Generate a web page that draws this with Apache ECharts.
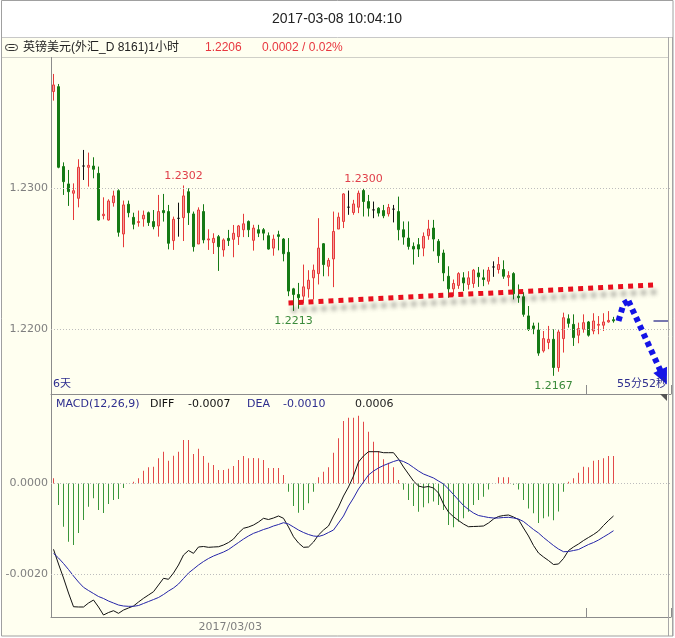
<!DOCTYPE html>
<html><head><meta charset="utf-8">
<script src="https://cdn.jsdelivr.net/npm/echarts@6/dist/echarts.min.js"></script>
<style>html,body{margin:0;padding:0;background:#fff}#c{width:675px;height:638px}</style>
</head><body><div id="c"></div>
<script>
// ---------- DATA ----------
const opens = [1.23686,1.23721,1.23154,1.23031,1.22965,1.22929,1.23158,1.23149,1.23158,1.23106,
 1.22806,1.22775,1.22898,1.22983,1.22676,1.22887,1.22794,1.22757,1.22783,1.22827,
 1.22764,1.22733,1.22842,1.22835,1.22629,1.22787,1.22792,1.22976,1.22818,1.22605,
 1.22835,1.22634,1.22615,1.22657,1.22563,1.22645,1.22638,1.22657,1.22706,1.22765,
 1.22631,1.22706,1.22706,1.22664,1.22576,1.22671,1.22640,1.22546,1.22287,1.22247,
 1.22235,1.22287,1.22365,1.22395,1.22607,1.22447,1.22499,1.22711,1.22765,1.22866,
 1.22828,1.22866,1.22984,1.22906,1.22847,1.22859,1.22842,1.22819,1.22852,1.22835,
 1.22706,1.22647,1.22588,1.22600,1.22576,1.22664,1.22718,1.22624,1.22541,1.22376,
 1.22287,1.22311,1.22365,1.22318,1.22325,1.22400,1.22365,1.22341,1.22442,1.22424,
 1.22424,1.22369,1.22395,1.22235,1.22231,1.22095,1.22024,1.21995,1.21847,1.21906,
 1.21929,1.21729,1.21934,1.22075,1.22035,1.21958,1.22000,1.22052,1.21988,1.22029,
 1.22029,1.22052,1.22068];
const closes = [1.23733,1.23149,1.23047,1.22976,1.22983,1.23149,1.23158,1.23163,1.23135,1.22775,
 1.22816,1.22910,1.22946,1.22688,1.22882,1.22827,1.22745,1.22764,1.22809,1.22757,
 1.22728,1.22835,1.22827,1.22610,1.22780,1.22787,1.22946,1.22827,1.22586,1.22846,
 1.22634,1.22641,1.22645,1.22586,1.22634,1.22629,1.22681,1.22733,1.22748,1.22706,
 1.22718,1.22682,1.22682,1.22569,1.22640,1.22659,1.22536,1.22271,1.22247,1.22224,
 1.22301,1.22348,1.22419,1.22576,1.22459,1.22489,1.22694,1.22795,1.22960,1.22866,
 1.22889,1.22965,1.22906,1.22859,1.22847,1.22824,1.22805,1.22864,1.22852,1.22706,
 1.22654,1.22588,1.22569,1.22569,1.22659,1.22711,1.22640,1.22522,1.22400,1.22287,
 1.22325,1.22395,1.22329,1.22365,1.22419,1.22372,1.22353,1.22419,1.22442,1.22459,
 1.22376,1.22381,1.22252,1.22224,1.22106,1.22000,1.22005,1.21831,1.21934,1.21929,
 1.21729,1.21981,1.22082,1.22042,1.21941,1.22005,1.22047,1.21958,1.22059,1.22035,
 1.22052,1.22063,1.22060];
const lows = [1.23622,1.23142,1.22953,1.22875,1.22775,1.22865,1.23059,1.23012,1.23071,1.22771,
 1.22780,1.22771,1.22870,1.22657,1.22582,1.22794,1.22709,1.22728,1.22728,1.22733,
 1.22709,1.22657,1.22764,1.22567,1.22563,1.22657,1.22626,1.22740,1.22551,1.22605,
 1.22610,1.22563,1.22534,1.22414,1.22515,1.22591,1.22511,1.22598,1.22654,1.22654,
 1.22558,1.22654,1.22631,1.22565,1.22522,1.22560,1.22482,1.22235,1.22130,1.22146,
 1.22184,1.22224,1.22212,1.22318,1.22376,1.22376,1.22299,1.22711,1.22718,1.22812,
 1.22812,1.22824,1.22800,1.22800,1.22788,1.22800,1.22788,1.22800,1.22758,1.22631,
 1.22600,1.22565,1.22459,1.22513,1.22518,1.22635,1.22553,1.22471,1.22341,1.22224,
 1.22235,1.22287,1.22271,1.22282,1.22294,1.22301,1.22306,1.22318,1.22372,1.22395,
 1.22358,1.22306,1.22212,1.22188,1.22089,1.21988,1.21965,1.21812,1.21835,1.21859,
 1.21670,1.21699,1.21835,1.22012,1.21882,1.21901,1.21976,1.21948,1.21965,1.21965,
 1.21988,1.22047,1.22047];
const highs = [1.23811,1.23740,1.23184,1.23130,1.23035,1.23206,1.23272,1.23253,1.23220,1.23154,
 1.22936,1.22922,1.22983,1.22993,1.22913,1.22913,1.22827,1.22842,1.22842,1.22835,
 1.22846,1.22953,1.22960,1.22882,1.22799,1.22898,1.23020,1.23000,1.22835,1.22865,
 1.22887,1.22709,1.22681,1.22669,1.22645,1.22705,1.22740,1.22740,1.22819,1.22772,
 1.22741,1.22741,1.22718,1.22687,1.22671,1.22699,1.22647,1.22647,1.22294,1.22329,
 1.22459,1.22419,1.22459,1.22788,1.22612,1.22506,1.22835,1.22828,1.22965,1.22984,
 1.22918,1.22984,1.23000,1.22953,1.22906,1.22866,1.22882,1.22889,1.22882,1.22941,
 1.22765,1.22765,1.22616,1.22647,1.22687,1.22776,1.22776,1.22640,1.22565,1.22447,
 1.22353,1.22405,1.22405,1.22412,1.22428,1.22442,1.22424,1.22442,1.22482,1.22513,
 1.22489,1.22412,1.22405,1.22318,1.22263,1.22165,1.22047,1.22047,1.21988,1.22024,
 1.22000,1.22000,1.22118,1.22106,1.22106,1.22047,1.22106,1.22059,1.22114,1.22094,
 1.22114,1.22129,1.22088];

const macdHist = [0.000115,-0.000475,-0.000955,-0.001286,-0.001359,-0.001094,-0.000807,-0.000513,-0.000327,-0.000586,
 -0.000652,-0.000453,-0.000365,-0.000343,-0.000100,0,0.000040,0.000115,0.000283,0.000358,
 0.000371,0.000557,0.000703,0.000504,0.000614,0.000703,0.000961,0.000961,0.000652,0.000769,
 0.000608,0.000460,0.000409,0.000298,0.000298,0.000327,0.000387,0.000519,0.000608,0.000557,
 0.000564,0.000557,0.000519,0.000343,0.000343,0.000343,0.000188,-0.000180,-0.000497,-0.000645,
 -0.000586,-0.000438,-0.000181,0.000137,0.000260,0.000358,0.000680,0.001000,0.001380,0.001454,
 0.001454,0.001499,0.001366,0.001145,0.000924,0.000718,0.000534,0.000460,0.000358,0.000077,
 -0.000140,-0.000365,-0.000497,-0.000623,-0.000526,-0.000438,-0.000400,-0.000475,-0.000586,-0.000917,
 -0.000968,-0.000844,-0.000769,-0.000623,-0.000475,-0.000365,-0.000290,-0.000130,0,0.000137,
 0.000137,0.000137,-0.000030,-0.000130,-0.000365,-0.000550,-0.000660,-0.000870,-0.000770,-0.000730,
 -0.000810,-0.000620,-0.000180,0.000040,0.000115,0.000240,0.000371,0.000358,0.000504,0.000519,
 0.000557,0.000608,0.000608];
const diffLine = [-0.001454,-0.001779,-0.002088,-0.002420,-0.002723,-0.002729,-0.002729,-0.002641,-0.002575,-0.002729,
 -0.002906,-0.002851,-0.002811,-0.002869,-0.002796,-0.002751,-0.002707,-0.002619,-0.002537,-0.002464,
 -0.002391,-0.002243,-0.002095,-0.002117,-0.001978,-0.001801,-0.001580,-0.001481,-0.001543,-0.001403,
 -0.001392,-0.001410,-0.001403,-0.001397,-0.001359,-0.001304,-0.001227,-0.001094,-0.000990,-0.000961,
 -0.000917,-0.000851,-0.000769,-0.000796,-0.000762,-0.000718,-0.000769,-0.000961,-0.001176,-0.001315,
 -0.001410,-0.001403,-0.001293,-0.001138,-0.001028,-0.000939,-0.000718,-0.000519,-0.000276,-0.000077,
 0.000166,0.000475,0.000608,0.000703,0.000703,0.000703,0.000681,0.000681,0.000681,0.000541,
 0.000365,0.000210,0.000055,-0.000055,-0.000084,-0.000066,-0.000099,-0.000210,-0.000453,-0.000630,
 -0.000734,-0.000818,-0.000895,-0.000955,-0.000950,-0.000946,-0.000939,-0.000873,-0.000785,-0.000729,
 -0.000707,-0.000696,-0.000740,-0.000796,-0.000983,-0.001160,-0.001370,-0.001536,-0.001624,-0.001702,
 -0.001790,-0.001779,-0.001657,-0.001481,-0.001403,-0.001337,-0.001260,-0.001193,-0.001127,-0.001050,
 -0.000928,-0.000818,-0.000718];
const deaLine = [-0.001543,-0.001646,-0.001768,-0.001901,-0.002044,-0.002177,-0.002294,-0.002365,-0.002431,-0.002497,
 -0.002541,-0.002597,-0.002641,-0.002685,-0.002707,-0.002714,-0.002714,-0.002696,-0.002652,-0.002608,
 -0.002564,-0.002519,-0.002453,-0.002376,-0.002309,-0.002221,-0.002099,-0.001978,-0.001890,-0.001801,
 -0.001724,-0.001657,-0.001602,-0.001558,-0.001514,-0.001459,-0.001381,-0.001304,-0.001227,-0.001160,
 -0.001101,-0.001061,-0.001017,-0.000983,-0.000939,-0.000906,-0.000866,-0.000895,-0.000961,-0.001028,
 -0.001083,-0.001127,-0.001160,-0.001171,-0.001138,-0.001083,-0.001028,-0.000873,-0.000718,-0.000497,
 -0.000320,-0.000122,0.000033,0.000188,0.000276,0.000343,0.000398,0.000442,0.000486,0.000519,
 0.000486,0.000431,0.000354,0.000276,0.000210,0.000166,0.000122,0.000055,-0.000011,-0.000122,
 -0.000243,-0.000365,-0.000486,-0.000575,-0.000652,-0.000707,-0.000729,-0.000751,-0.000762,-0.000762,
 -0.000751,-0.000747,-0.000762,-0.000785,-0.000840,-0.000928,-0.001017,-0.001094,-0.001193,-0.001282,
 -0.001370,-0.001448,-0.001507,-0.001503,-0.001481,-0.001459,-0.001403,-0.001348,-0.001304,-0.001249,
 -0.001182,-0.001116,-0.001043];

const slotCount = 124;                       // 113 bars + empty room on the right
const categories = Array.from({length: slotCount}, (_, i) => String(i + 1));
const priceTicks = [1.2300, 1.2200];
const macdTicks = [0, -0.0020];
const xLabelIdx = [29];
const xLabelText = ['2017/03/03'];
const dayTickIdx = [0, 107];
const highMarkIdx = [26, 62];
const lowMarkIdx = [48, 100];
const trendLine = [[47, 1.22187], [120, 1.22314]];
const arrowPath = [[113, 1.22059], [114, 1.22180], [115, 1.22201], [122, 1.21660]];
const priceMarker = [[120, 1.2206], [123, 1.2206]];
const priceRange = [1.215411, 1.239099];
const macdRange = [-0.002950, 0.001978];
const changeText = '0.0002 / 0.02%';

// ---------- STYLE ----------
const FONT = 'DejaVu Sans, "Noto Sans CJK SC", sans-serif';
const FONT2 = '"Liberation Sans", "Noto Sans CJK SC", sans-serif';
const CREAM = '#FFFFF0';
const RED = '#E8373F';
const LBL_RED = '#E0404A';
const LBL_GREEN = '#3A8A3A';
const NAVY = '#2E2E8E';
const AXIS = '#8C8C8C';
const gridLine = {type: [1, 2], color: '#BDBDBD', width: 1};

const chart = echarts.init(document.getElementById('c'), null, {renderer: 'canvas'});

const makeGridMarks = ticks => ticks.map(v => ({
  yAxis: v, name: v.toFixed(4), lineStyle: gridLine,
  label: {show: true, position: 'start', formatter: '{b}', color: '#7F7F7F', fontSize: 11, fontFamily: FONT, distance: 3}
}));
const trendStyle = {color: '#E8101E', width: 5, type: [5, 5], shadowColor: 'rgba(60,60,60,0.45)', shadowBlur: 4, shadowOffsetX: 3, shadowOffsetY: 7};
const arrowStyle = {color: '#1414E6', width: 6, type: [5, 4]};
const arrowMarks = [];
for (let i = 0; i < arrowPath.length - 1; i++) {
  const isLast = i === arrowPath.length - 2;
  arrowMarks.push([
    {coord: arrowPath[i], symbol: 'none', lineStyle: arrowStyle, label: {show: false}},
    {coord: arrowPath[i + 1], symbol: isLast ? 'triangle' : 'none', symbolSize: isLast ? [15, 16] : 0,
     itemStyle: {color: '#1414E6'}, lineStyle: arrowStyle, label: {show: false}}
  ]);
}

const markPts = [
  ...highMarkIdx.map(i => ({coord: [i, highs[i]], name: highs[i].toFixed(4),
     label: {position: 'top', distance: 3, color: LBL_RED}})),
  ...lowMarkIdx.map(i => ({coord: [i, lows[i]], name: lows[i].toFixed(4),
     label: {position: 'bottom', distance: 4, color: LBL_GREEN}}))
];

const last = closes.length - 1;

const option = {
  animation: false,
  backgroundColor: '#FFFFFF',
  grid: [
    {left: 51, top: 60, width: 620, height: 334},
    {left: 51, top: 394, width: 620, height: 223}
  ],
  xAxis: [
    {type: 'category', gridIndex: 0, data: categories, boundaryGap: true,
     axisLine: {show: true, onZero: false, lineStyle: {color: AXIS}},
     axisTick: {show: true, inside: true, length: 9, interval: (i) => dayTickIdx.includes(i), lineStyle: {color: AXIS}},
     axisLabel: {show: false}, splitLine: {show: false}},
    {type: 'category', gridIndex: 1, data: categories, boundaryGap: true,
     axisLine: {show: true, onZero: false, lineStyle: {color: AXIS}},
     axisTick: {show: true, inside: true, length: 9, interval: (i) => dayTickIdx.includes(i), lineStyle: {color: AXIS}},
     axisLabel: {show: true, interval: (i) => xLabelIdx.includes(i),
       formatter: (v, i) => { const k = xLabelIdx.indexOf(i); return k >= 0 ? xLabelText[k] : ''; },
       align: 'left', color: '#7F7F7F', fontSize: 11, fontFamily: FONT, margin: 5},
     splitLine: {show: false}}
  ],
  yAxis: [
    {type: 'value', gridIndex: 0, min: priceRange[0], max: priceRange[1],
     axisLine: {show: true, lineStyle: {color: AXIS}}, axisTick: {show: false}, axisLabel: {show: false}, splitLine: {show: false}},
    {type: 'value', gridIndex: 1, min: macdRange[0], max: macdRange[1],
     axisLine: {show: true, lineStyle: {color: AXIS}}, axisTick: {show: false}, axisLabel: {show: false}, splitLine: {show: false}}
  ],
  series: [
    {
      type: 'candlestick', xAxisIndex: 0, yAxisIndex: 0, silent: true,
      data: opens.map((o, i) => [o, closes[i], lows[i], highs[i]]),
      barWidth: 3,
      itemStyle: {color: '#F4A0A0', borderColor: '#E63A3A', color0: '#157A15', borderColor0: '#157A15',
                  borderColorDoji: '#111111', borderWidth: 1},
      markLine: {
        silent: true, animation: false, symbol: 'none', precision: 6, label: {show: false},
        data: [
          ...makeGridMarks(priceTicks),
          [{coord: priceMarker[0], lineStyle: {color: '#4A4A9A', width: 1.5, type: 'solid'}},
           {coord: priceMarker[1], lineStyle: {color: '#4A4A9A', width: 1.5, type: 'solid'}}],
          [{coord: trendLine[0], lineStyle: trendStyle}, {coord: trendLine[1], lineStyle: trendStyle}],
          ...arrowMarks
        ]
      },
      markPoint: {
        silent: true, animation: false, symbol: 'circle', symbolSize: 1,
        itemStyle: {color: 'rgba(0,0,0,0)'},
        label: {show: true, formatter: '{b}', fontSize: 11, fontFamily: FONT},
        data: markPts
      }
    },
    {
      type: 'bar', xAxisIndex: 1, yAxisIndex: 1, silent: true, data: macdHist, barWidth: 1,
      itemStyle: {color: p => p.value >= 0 ? '#E24A4A' : '#3A963A'}
    },
    {type: 'line', xAxisIndex: 1, yAxisIndex: 1, silent: true, data: diffLine, symbol: 'none', z: 4,
     lineStyle: {color: '#111111', width: 1},
     markLine: {silent: true, animation: false, symbol: 'none', precision: 6, data: makeGridMarks(macdTicks)}},
    {type: 'line', xAxisIndex: 1, yAxisIndex: 1, silent: true, data: deaLine, symbol: 'none', z: 4,
     lineStyle: {color: '#2525A8', width: 1}}
  ],
  graphic: [
    {type: 'rect', z: -100, silent: true, shape: {x: 2, y: 37, width: 671, height: 599}, style: {fill: CREAM}},
    {type: 'line', z: 50, silent: true, shape: {x1: 2, y1: 37.5, x2: 673, y2: 37.5}, style: {stroke: '#C8C8C8', lineWidth: 1}},
    {type: 'line', z: 50, silent: true, shape: {x1: 2, y1: 57.5, x2: 668, y2: 57.5}, style: {stroke: '#D0D0C8', lineWidth: 1}},
    {type: 'line', z: 50, silent: true, shape: {x1: 51.5, y1: 57, x2: 51.5, y2: 60}, style: {stroke: AXIS, lineWidth: 1}},
    {type: 'line', z: 50, silent: true, shape: {x1: 668.5, y1: 37, x2: 668.5, y2: 636}, style: {stroke: '#A8A8A8', lineWidth: 1}},
    {type: 'line', z: 50, silent: true, shape: {x1: 672.5, y1: 37, x2: 672.5, y2: 636}, style: {stroke: '#A8A8A8', lineWidth: 1}},
    {type: 'rect', z: 50, silent: true, shape: {x: 1.5, y: 0.5, width: 671.5, height: 635.5}, style: {fill: 'none', stroke: '#A0A0A0', lineWidth: 1}},
    {type: 'polygon', z: 50, silent: true, shape: {points: [[660, 394], [667, 394], [667, 401]]}, style: {fill: '#555555'}},
    // title
    {type: 'text', z: 50, silent: true, x: 337, y: 19,
     style: {text: '2017-03-08 10:04:10', fill: '#222222', font: '14px ' + FONT2, textAlign: 'center', textVerticalAlign: 'middle'}},
    // header band
    {type: 'rect', z: 50, silent: true, shape: {x: 5.5, y: 44.5, width: 12, height: 6, r: 3}, style: {fill: 'none', stroke: '#333333', lineWidth: 1}},
    {type: 'line', z: 50, silent: true, shape: {x1: 8.5, y1: 47.5, x2: 14.5, y2: 47.5}, style: {stroke: '#333333', lineWidth: 1}},
    {type: 'text', z: 50, silent: true, x: 23, y: 47.5,
     style: {text: '英镑美元(外汇_D 8161)1小时', fill: '#222222', font: '12px ' + FONT2, textVerticalAlign: 'middle'}},
    {type: 'text', z: 50, silent: true, x: 205, y: 47.5,
     style: {text: closes[last].toFixed(4), fill: RED, font: '12px ' + FONT2, textVerticalAlign: 'middle'}},
    {type: 'text', z: 50, silent: true, x: 262, y: 47.5,
     style: {text: changeText, fill: RED, font: '12px ' + FONT2, textVerticalAlign: 'middle'}},
    // panel notes
    {type: 'text', z: 50, silent: true, x: 53, y: 384.5,
     style: {text: '6天', fill: NAVY, font: '11px ' + FONT, textVerticalAlign: 'middle'}},
    {type: 'text', z: 50, silent: true, x: 667, y: 384.5,
     style: {text: '55分52秒', fill: NAVY, font: '11px ' + FONT, textAlign: 'right', textVerticalAlign: 'middle'}},
    // MACD header
    {type: 'text', z: 50, silent: true, x: 56, y: 404, style: {text: 'MACD(12,26,9)', fill: NAVY, font: '11px ' + FONT, textVerticalAlign: 'middle'}},
    {type: 'text', z: 50, silent: true, x: 150, y: 404, style: {text: 'DIFF', fill: '#111111', font: '11px ' + FONT, textVerticalAlign: 'middle'}},
    {type: 'text', z: 50, silent: true, x: 188, y: 404, style: {text: diffLine[last].toFixed(4), fill: '#111111', font: '11px ' + FONT, textVerticalAlign: 'middle'}},
    {type: 'text', z: 50, silent: true, x: 247, y: 404, style: {text: 'DEA', fill: NAVY, font: '11px ' + FONT, textVerticalAlign: 'middle'}},
    {type: 'text', z: 50, silent: true, x: 283, y: 404, style: {text: deaLine[last].toFixed(4), fill: NAVY, font: '11px ' + FONT, textVerticalAlign: 'middle'}},
    {type: 'text', z: 50, silent: true, x: 355, y: 404, style: {text: macdHist[last].toFixed(4), fill: '#222222', font: '11px ' + FONT, textVerticalAlign: 'middle'}}
  ]
};
chart.setOption(option);
</script></body></html>
